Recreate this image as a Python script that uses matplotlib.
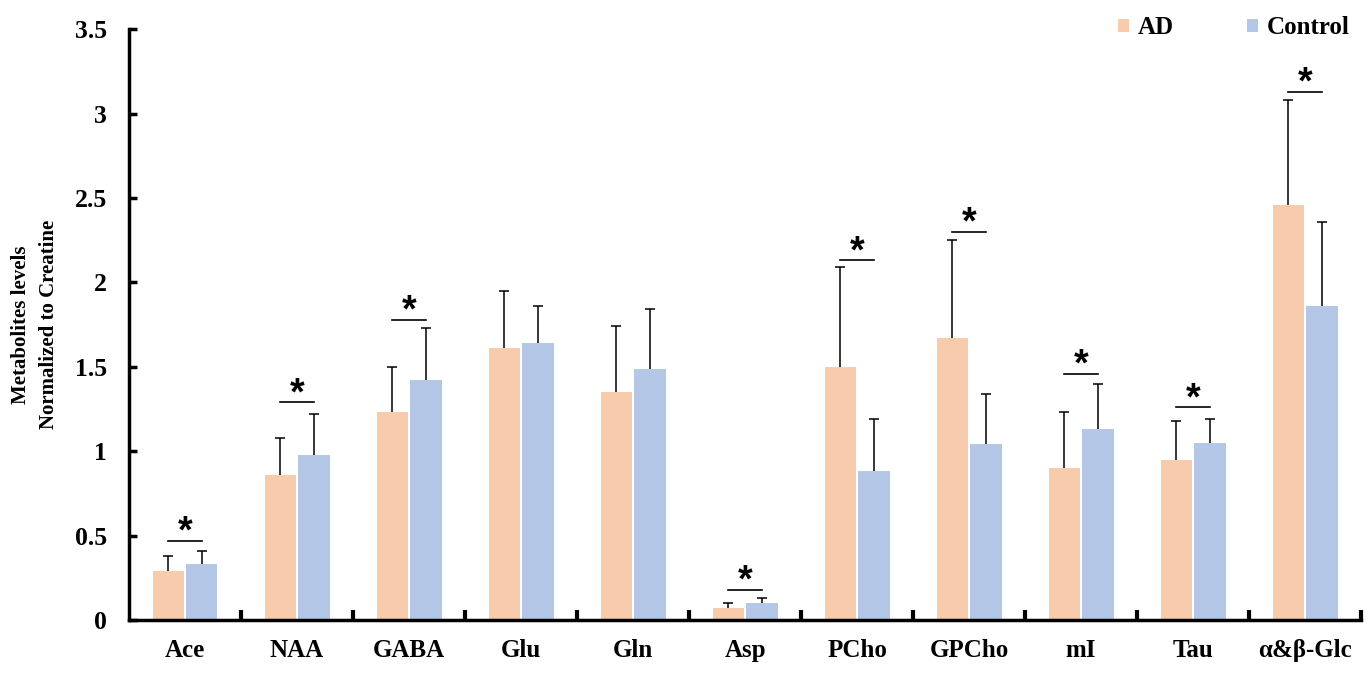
import matplotlib
matplotlib.use("Agg")
import matplotlib.pyplot as plt
import numpy as np

categories = ["Ace", "NAA", "GABA", "Glu", "Gln", "Asp", "PCho", "GPCho", "mI", "Tau", "α&β-Glc"]
ad_mean = [0.29, 0.86, 1.23, 1.61, 1.35, 0.07, 1.50, 1.67, 0.90, 0.95, 2.46]
ad_err_top = [0.38, 1.08, 1.50, 1.95, 1.74, 0.10, 2.09, 2.25, 1.23, 1.18, 3.08]
ctrl_mean = [0.33, 0.98, 1.42, 1.64, 1.49, 0.10, 0.88, 1.04, 1.13, 1.05, 1.86]
ctrl_err_top = [0.41, 1.22, 1.73, 1.86, 1.84, 0.13, 1.19, 1.34, 1.40, 1.19, 2.36]
significant = [True, True, True, False, False, True, True, True, True, True, True]
sig_line = [0.47, 1.29, 1.78, None, None, 0.18, 2.13, 2.30, 1.46, 1.26, 3.13]
yticks = [0, 0.5, 1, 1.5, 2, 2.5, 3, 3.5]
ytick_labels = ["0", "0.5", "1", "1.5", "2", "2.5", "3", "3.5"]

ad_color = "#F8CBAD"
ctrl_color = "#B4C7E7"

plt.rcParams['font.family'] = ['Liberation Serif', 'DejaVu Serif']
fig = plt.figure(figsize=(13.68, 6.8), dpi=100)
ax = fig.add_axes([0.0943, 0.0882, 0.9007, 0.8688])

x = np.arange(len(categories))
w = 0.28
gap = 0.01
ad_x = x - w / 2 - gap
ct_x = x + w / 2 + gap
cap = 0.045

ax.bar(ad_x, ad_mean, w, color=ad_color, label="AD", zorder=2)
ax.bar(ct_x, ctrl_mean, w, color=ctrl_color, label="Control", zorder=2)
for xs, m, t in ((ad_x, ad_mean, ad_err_top), (ct_x, ctrl_mean, ctrl_err_top)):
    ax.vlines(xs, m, t, colors='black', lw=1.1, zorder=3)
    ax.hlines(t, xs - cap, xs + cap, colors='black', lw=1.1, zorder=3)

for i, s in enumerate(significant):
    if s:
        yl = sig_line[i]
        ax.plot([ad_x[i], ct_x[i]], [yl, yl], color='black', lw=1.2, zorder=3)
        ax.annotate("*", xy=(x[i], yl), xytext=(0, -7), textcoords='offset points',
                    ha='center', va='bottom', fontsize=27, fontweight='bold',
                    fontfamily='Liberation Sans', color='black')

ax.set_xlim(-0.5, len(categories) - 0.5)
ax.set_ylim(0, 3.5)
ax.set_yticks(yticks)
ax.set_yticklabels(ytick_labels, fontsize=18.5, fontweight='bold')
ax.set_xticks(x)
ax.set_xticklabels(categories, fontsize=18, fontweight='bold')
ax.set_xticks(np.arange(0.5, len(categories), 1), minor=True)
ax.tick_params(axis='x', which='major', length=0, pad=14)
ax.tick_params(axis='x', which='minor', direction='in', length=7, width=3)
ax.tick_params(axis='y', which='major', direction='in', length=6, width=2.5, pad=16)

for sp in ['top', 'right']:
    ax.spines[sp].set_visible(False)
for sp in ['left', 'bottom']:
    ax.spines[sp].set_linewidth(2.5)

ax.set_ylabel("Metabolites levels\nNormalized to Creatine", fontsize=15,
              fontweight='bold', labelpad=11, linespacing=1.55)

leg = ax.legend(loc='upper right', bbox_to_anchor=(1.009, 1.06), ncol=2, frameon=False,
                prop={'size': 18, 'weight': 'bold'}, handlelength=0.45, handleheight=0.45,
                handletextpad=0.35, columnspacing=2.9)

fig.savefig("out.png", dpi=100)
